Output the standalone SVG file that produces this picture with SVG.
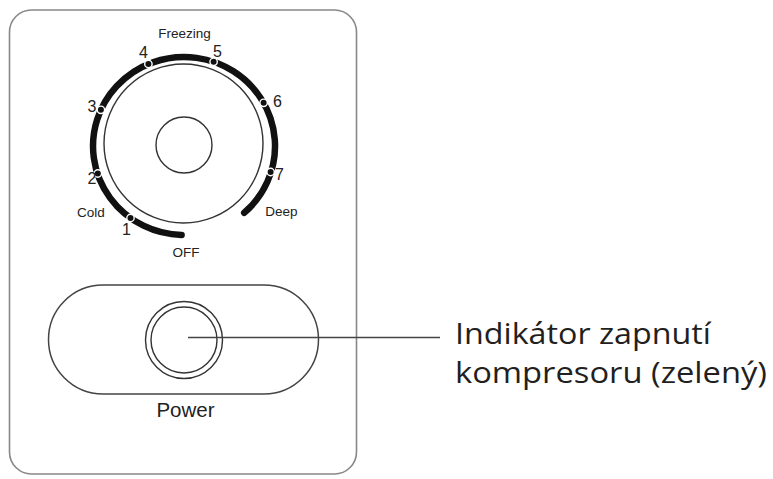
<svg xmlns="http://www.w3.org/2000/svg" width="773" height="479" viewBox="0 0 773 479">
  <style>
    .thin { fill: none; stroke: #333; stroke-width: 1.4; }
    .gap { fill: #fff; }
    .dot { fill: #111; }
    .num { font-family: "Liberation Sans", Arial, sans-serif; font-size: 16px; fill: #222; }
    .lbl { font-family: "Liberation Sans", Arial, sans-serif; font-size: 13.5px; fill: #222; }
    .big { font-family: "Open Sans", "Noto Sans", sans-serif; font-size: 30px; fill: #231f20; }
  </style>
  <defs>
    <g id="tick">
      <circle class="gap" r="4.4"/>
      <circle class="dot" r="3"/>
    </g>
  </defs>
  <rect width="773" height="479" fill="#fff"/>
  <g id="panel">
    <rect x="9.5" y="10" width="347" height="464" rx="22" ry="22" fill="none" stroke="#888" stroke-width="1.6"/>
  </g>
  <g id="dial">
    <path d="M 181.6 235 A 91 89 0 1 1 244.2 212.8" fill="none" stroke="#111" stroke-width="6.5" stroke-linecap="round"/>
    <circle cx="183.5" cy="143.5" r="79.5" class="thin"/>
    <circle cx="184" cy="145" r="28" class="thin"/>
    <use href="#tick" x="130.5" y="218"/>
    <use href="#tick" x="97.8" y="173.5"/>
    <use href="#tick" x="100.9" y="109.8"/>
    <use href="#tick" x="148.4" y="64"/>
    <use href="#tick" x="213.6" y="61.8"/>
    <use href="#tick" x="263.6" y="102.8"/>
    <use href="#tick" x="270.6" y="172"/>
    <text class="num" x="143.5" y="58" text-anchor="middle">4</text>
    <text class="num" x="217.5" y="56.5" text-anchor="middle">5</text>
    <text class="num" x="92" y="111.5" text-anchor="middle">3</text>
    <text class="num" x="277.5" y="107" text-anchor="middle">6</text>
    <text class="num" x="92" y="184" text-anchor="middle">2</text>
    <text class="num" x="279.5" y="180" text-anchor="middle">7</text>
    <text class="num" x="126.5" y="235" text-anchor="middle">1</text>
    <text class="lbl" x="184.5" y="38" text-anchor="middle">Freezing</text>
    <text class="lbl" x="91" y="216.5" text-anchor="middle">Cold</text>
    <text class="lbl" x="281.5" y="216" text-anchor="middle">Deep</text>
    <text class="lbl" x="186" y="256.5" text-anchor="middle">OFF</text>
  </g>
  <g id="power">
    <rect x="48.5" y="285" width="270" height="109" rx="54.5" ry="54.5" fill="none" stroke="#444" stroke-width="1.5"/>
    <circle cx="184" cy="340" r="38.5" class="thin"/>
    <circle cx="184" cy="340" r="33" class="thin"/>
    <text x="185.5" y="417.3" text-anchor="middle" font-family="Liberation Sans, Arial, sans-serif" font-size="20.5" fill="#222">Power</text>
  </g>
  <g id="connectors">
    <line x1="188" y1="337.5" x2="440" y2="337.5" stroke="#444" stroke-width="1.6"/>
  </g>
  <g id="label">
    <text class="big" x="455" y="344" textLength="256" lengthAdjust="spacingAndGlyphs">Indikátor zapnutí</text>
    <text class="big" x="455" y="383" textLength="312" lengthAdjust="spacingAndGlyphs">kompresoru (zelený)</text>
  </g>
</svg>
